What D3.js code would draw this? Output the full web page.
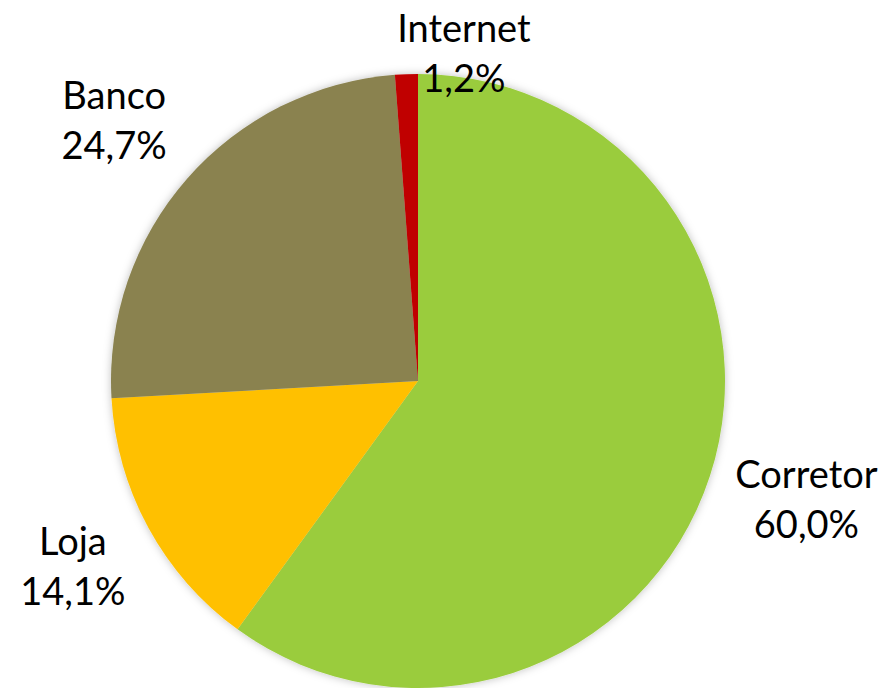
<!DOCTYPE html>
<html><head><meta charset="utf-8">
<script src="https://cdn.jsdelivr.net/npm/d3@7/dist/d3.min.js"></script>
<style>html,body{margin:0;padding:0;background:#fff;}svg{display:block;}</style>
</head><body>
<svg id="chart" width="886" height="688"></svg>
<script>
const categories = ["Corretor", "Loja", "Banco", "Internet"];
const values = [60.0, 14.1, 24.7, 1.2];
const labelTexts = ["60,0%", "14,1%", "24,7%", "1,2%"];
const colors = ["#9ACC3C", "#FFC000", "#8A8250", "#C00000"];

const W = 886, H = 688;
const cx = 418, cy = 381, R = 307;
// label layout (not data): radius and per-label nudges
const labelR = 400;
const nudges = [[8, 8], [6, 7], [-3, 17], [61, 86]];
const lineGap = 50;

const svg = d3.select("#chart");
const defs = svg.append("defs");
const f = defs.append("filter").attr("id", "sh").attr("x", "-10%").attr("y", "-10%").attr("width", "120%").attr("height", "120%");
f.append("feDropShadow").attr("dx", 0).attr("dy", 0).attr("stdDeviation", 4).attr("flood-color", "#000").attr("flood-opacity", 0.25);

const data = categories.map((c, i) => ({cat: c, value: values[i], label: labelTexts[i], color: colors[i]}));
const pie = d3.pie().value(d => d.value).sort(null);
const arcs = pie(data);
const arc = d3.arc().innerRadius(0).outerRadius(R);

const g = svg.append("g").attr("transform", `translate(${cx},${cy})`);
g.append("g").attr("filter", "url(#sh)")
  .selectAll("path").data(arcs).join("path")
  .attr("d", arc).attr("fill", d => d.data.color);

const labelArc = d3.arc().innerRadius(labelR).outerRadius(labelR);
const lg = g.append("g").attr("font-family", "Lato, 'Open Sans', sans-serif").attr("font-size", 38).attr("fill", "#000").attr("text-anchor", "middle");
arcs.forEach((a, i) => {
  const [x, y] = labelArc.centroid(a);
  const px = x + nudges[i][0], py = y + nudges[i][1];
  const t = lg.append("text");
  t.append("tspan").attr("x", px).attr("y", py - lineGap / 2).text(a.data.cat);
  t.append("tspan").attr("x", px).attr("y", py + lineGap / 2).text(a.data.label);
});
</script>
</body></html>
